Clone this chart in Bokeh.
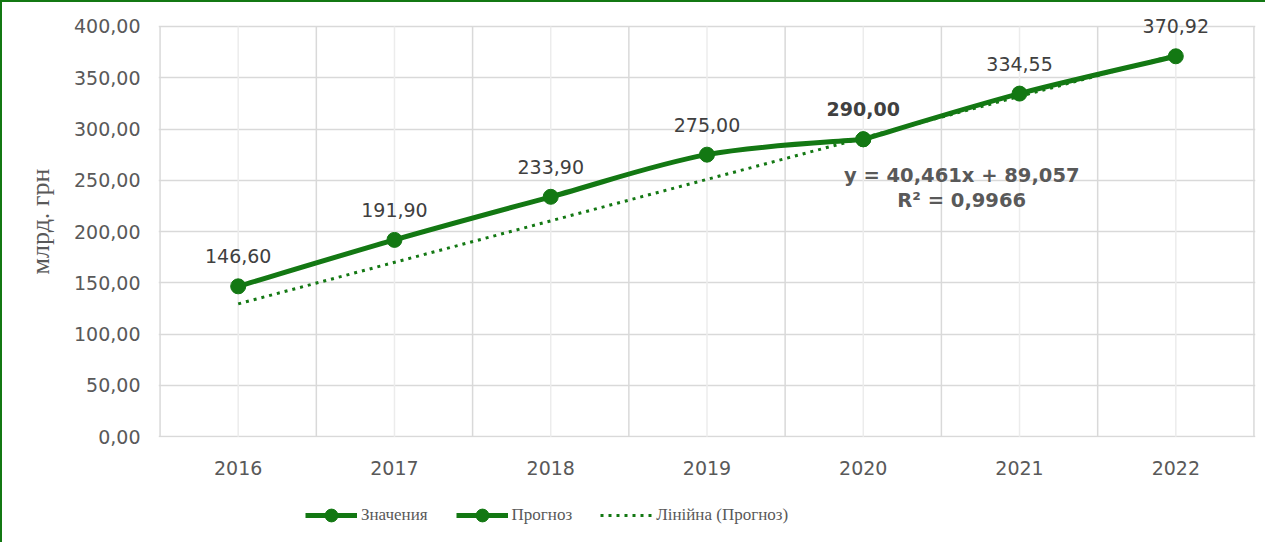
from bokeh.plotting import figure
from bokeh.layouts import column
from bokeh.models import (ColumnDataSource, FixedTicker, Legend, LegendItem,
                          CustomJSTickFormatter)
from bokeh.core.properties import value
from bokeh.embed import file_html
from bokeh.resources import INLINE

# ---------------- data ----------------
years_actual = [2016, 2017, 2018, 2019, 2020]
values_actual = [146.60, 191.90, 233.90, 275.00, 290.00]
labels_actual = ["146,60", "191,90", "233,90", "275,00", "290,00"]
years_forecast = [2020, 2021, 2022]
values_forecast = [290.00, 334.55, 370.92]
labels_forecast = ["334,55", "370,92"]
trend_slope = 40.461
trend_intercept = 89.057
trend_years = [2016, 2022]
trend_text = ["y = 40,461x + 89,057", "R² = 0,9966"]
x_years = [2016, 2017, 2018, 2019, 2020, 2021, 2022]
y_ticks = [0, 50, 100, 150, 200, 250, 300, 350, 400]
series_names = ["Значения", "Прогноз", "Лінійна (Прогноз)"]
y_title = "млрд. грн"

GREEN = "#137813"
TICK = "#595959"
LBL = "#404040"
GRID = "#d9d9d9"
GRID2 = "#ececec"
TREND_DASH = "3 5"

y_top = 420.44
p = figure(width=1263, height=485, output_backend="svg", toolbar_location=None,
           x_range=(2015.49, 2022.51), y_range=(-0.8, y_top),
           min_border_left=156, min_border_top=3, min_border_right=10,
           min_border_bottom=50, background_fill_color="white",
           border_fill_color="white", outline_line_color=None)

# axes
p.xaxis.ticker = FixedTicker(ticks=x_years)
p.yaxis.ticker = FixedTicker(ticks=y_ticks)
p.yaxis.formatter = CustomJSTickFormatter(code="return tick.toFixed(2).replace('.', ',');")
for ax in (p.xaxis[0], p.yaxis[0]):
    ax.axis_line_color = None
    ax.major_tick_line_color = None
    ax.minor_tick_line_color = None
    ax.major_label_text_font = "DejaVu Sans"
    ax.major_label_text_font_size = "19px"
    ax.major_label_text_color = TICK
p.xaxis.major_label_standoff = 17
p.yaxis.major_label_standoff = 12
p.yaxis.axis_label = y_title
p.yaxis.axis_label_text_font = "Liberation Serif"
p.yaxis.axis_label_text_font_size = "26px"
p.yaxis.axis_label_text_font_style = "normal"
p.yaxis.axis_label_text_color = TICK
p.yaxis.axis_label_standoff = 16

# grids
p.xgrid.visible = False
p.ygrid.ticker = FixedTicker(ticks=y_ticks)
p.ygrid.grid_line_color = GRID
p.ygrid.grid_line_width = 1.5
bounds = [y - 0.5 for y in x_years] + [x_years[-1] + 0.5]
p.segment(x0=x_years, y0=[0] * len(x_years), x1=x_years, y1=[y_ticks[-1]] * len(x_years),
          line_color=GRID2, line_width=1.5)
p.segment(x0=bounds, y0=[0] * len(bounds), x1=bounds, y1=[y_ticks[-1]] * len(bounds),
          line_color=GRID, line_width=1.5)


def smooth_segments(xs, ys):
    n = len(xs)
    out = dict(x0=[], y0=[], x1=[], y1=[], cx0=[], cy0=[], cx1=[], cy1=[])
    for i in range(n - 1):
        a = i - 1 if i > 0 else i
        d = i + 2 if i + 2 < n else i + 1
        out["x0"].append(xs[i]); out["y0"].append(ys[i])
        out["x1"].append(xs[i + 1]); out["y1"].append(ys[i + 1])
        out["cx0"].append(xs[i] + (xs[i + 1] - xs[a]) / 6)
        out["cy0"].append(ys[i] + (ys[i + 1] - ys[a]) / 6)
        out["cx1"].append(xs[i + 1] - (xs[d] - xs[i]) / 6)
        out["cy1"].append(ys[i + 1] - (ys[d] - ys[i]) / 6)
    return out


# trend line
trend_vals = [trend_slope * (yr - (x_years[0] - 1)) + trend_intercept for yr in trend_years]
p.line(trend_years, trend_vals, line_color=GREEN, line_width=3, line_dash=TREND_DASH)

# series
for xs, ys in ((years_actual, values_actual), (years_forecast, values_forecast)):
    src = ColumnDataSource(smooth_segments(xs, ys))
    p.bezier(x0="x0", y0="y0", x1="x1", y1="y1", cx0="cx0", cy0="cy0",
             cx1="cx1", cy1="cy1", source=src, line_color=GREEN, line_width=5,
             line_cap="round")

p.scatter(years_actual, values_actual, size=15, fill_color=GREEN, line_color=GREEN)
p.scatter(years_forecast, values_forecast, size=15, fill_color=GREEN, line_color=GREEN)

# data labels
lab_src = ColumnDataSource(dict(
    x=years_actual + years_forecast[1:],
    y=values_actual + values_forecast[1:],
    t=labels_actual + labels_forecast,
    st=["normal", "normal", "normal", "normal", "bold", "normal", "normal"],
))
p.text(x="x", y="y", text="t", source=lab_src, text_font=value("DejaVu Sans"),
       text_font_size="19px", text_color=LBL, text_font_style="st",
       text_align="center", text_baseline="middle", y_offset=-30)

# trend equation
p.text(x=[2020.63, 2020.63], y=[255, 230.7], text=trend_text,
       text_font=value("DejaVu Sans"), text_font_size="19.5px", text_color=TICK,
       text_font_style="bold", text_align="center", text_baseline="middle")

# ---------------- legend strip ----------------
# series are re-drawn here outside the visible range so the legend has real glyphs
lg = figure(width=1263, height=55, output_backend="svg", toolbar_location=None,
            x_range=(0, 1), y_range=(0, 1), x_axis_location=None, y_axis_location=None,
            min_border=0, outline_line_color=None, background_fill_color="white",
            border_fill_color="white")
lg.grid.visible = False
l1 = lg.line(years_actual, values_actual, line_color=GREEN, line_width=5)
m1 = lg.scatter(years_actual, values_actual, size=15, fill_color=GREEN, line_color=GREEN)
l2 = lg.line(years_forecast, values_forecast, line_color=GREEN, line_width=5)
m2 = lg.scatter(years_forecast, values_forecast, size=15, fill_color=GREEN, line_color=GREEN)
l3 = lg.line(trend_years, trend_vals, line_color=GREEN, line_width=3, line_dash=TREND_DASH)
legend = Legend(items=[LegendItem(label=series_names[0], renderers=[l1, m1]),
                       LegendItem(label=series_names[1], renderers=[l2, m2]),
                       LegendItem(label=series_names[2], renderers=[l3])],
                orientation="horizontal", location=(147, 11),
                glyph_width=52, glyph_height=32, label_standoff=4, spacing=28,
                padding=0, margin=0, border_line_color=None,
                background_fill_alpha=0,
                label_text_font="Liberation Serif", label_text_font_size="17px",
                label_text_color=TICK)
lg.add_layout(legend)

layout = column(p, lg, spacing=0)
layout.styles = {"border-left": "2px solid " + GREEN, "border-top": "2px solid " + GREEN}

open("out.html", "w").write(file_html(layout, INLINE))
